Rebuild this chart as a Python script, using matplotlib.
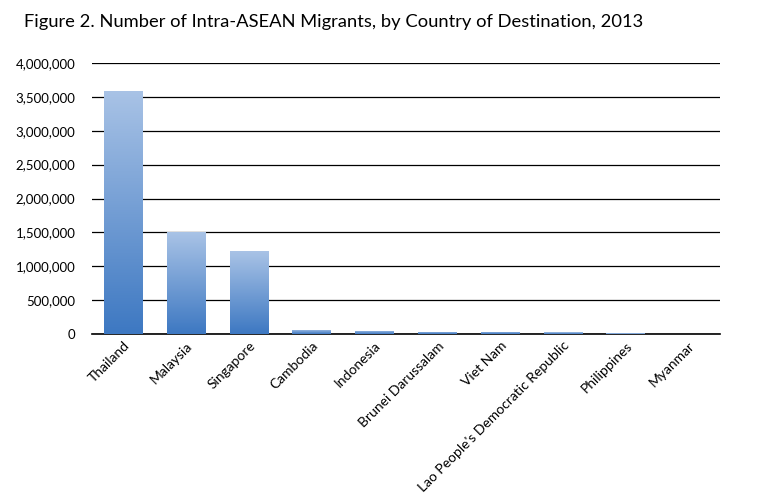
import numpy as np
import matplotlib.pyplot as plt
from matplotlib.colors import LinearSegmentedColormap
from matplotlib.ticker import FuncFormatter

# Data
countries = ['Thailand', 'Malaysia', 'Singapore', 'Cambodia', 'Indonesia',
             'Brunei Darussalam', 'Viet Nam', "Lao People's Democratic Republic",
             'Philippines', 'Myanmar']
migrants = [3590000, 1505000, 1225000, 62000, 45000, 32000, 30000, 25000, 12000, 2000]
y_ticks = [0, 500000, 1000000, 1500000, 2000000, 2500000, 3000000, 3500000, 4000000]

plt.rcParams['font.family'] = ['Lato', 'DejaVu Sans']

fig = plt.figure(figsize=(7.6, 4.98), dpi=100)
ax = fig.add_axes([92 / 760, 1 - 334 / 498, 628 / 760, 271 / 498])

cmap = LinearSegmentedColormap.from_list('bar', ['#3d78c2', '#a9c3e6'])
grad = np.linspace(0, 1, 256).reshape(-1, 1)

x = np.arange(len(countries))
bars = ax.bar(x, migrants, width=0.62, color='none', zorder=3)
for b in bars:
    x0, w, h = b.get_x(), b.get_width(), b.get_height()
    if h <= 0:
        continue
    im = ax.imshow(grad, cmap=cmap, aspect='auto', origin='lower',
                   extent=[x0, x0 + w, 0, h], zorder=3)
    im.set_clip_path(b)

ax.set_xlim(-0.5, len(countries) - 0.5)
ax.set_ylim(0, 4000000)
ax.set_yticks(y_ticks)
ax.yaxis.set_major_formatter(FuncFormatter(lambda v, p: f'{int(v):,}'))
ax.grid(axis='y', color='black', linewidth=0.9, zorder=1)
ax.set_axisbelow(True)

for s in ['top', 'right', 'left']:
    ax.spines[s].set_visible(False)
ax.spines['bottom'].set_color('black')
ax.spines['bottom'].set_linewidth(1.2)

ax.tick_params(axis='y', length=0, labelsize=9.5, pad=12)
ax.tick_params(axis='x', length=0, pad=4)
ax.set_xticks(x)
ax.set_xticklabels(countries, rotation=45, ha='right', rotation_mode='anchor',
                   fontsize=10)

fig.text(24 / 760, 1 - 22 / 498, 'Figure 2. Number of Intra-ASEAN Migrants, by Country of Destination, 2013',
         fontsize=13.2, va='center', ha='left')

fig.savefig('out.png', dpi=100)
